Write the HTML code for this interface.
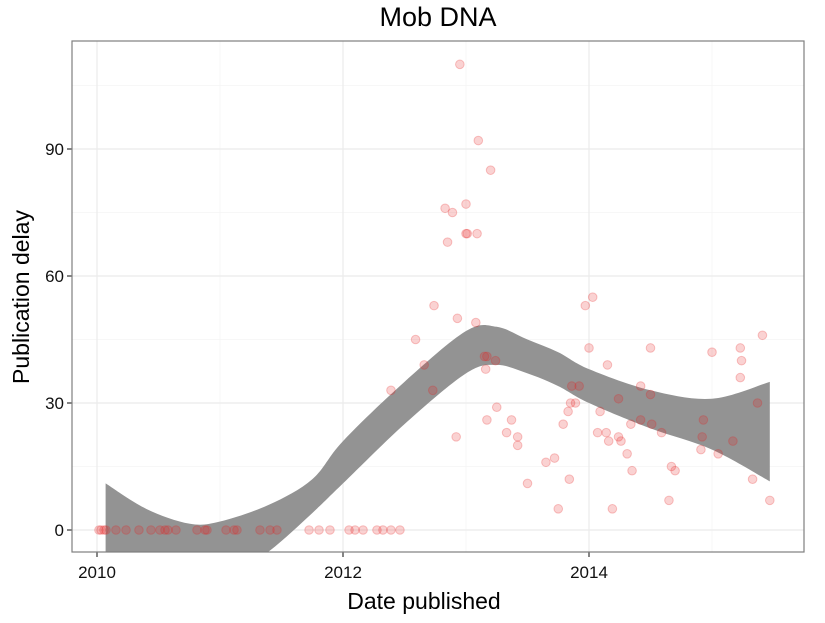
<!DOCTYPE html>
<html><head><meta charset="utf-8"><style>
body{margin:0;background:#fff;}
svg text{font-family:"Liberation Sans",sans-serif;}
</style></head><body>
<svg id="chart" width="825" height="618">
<text x="438" y="26" text-anchor="middle" font-size="27">Mob DNA</text>
<text x="424" y="609" text-anchor="middle" font-size="23">Date published</text>
<text transform="translate(29,297) rotate(-90)" text-anchor="middle" font-size="23">Publication delay</text>
<g id="grid"></g><g id="band"></g><g id="pts"></g><g id="axes"></g>
<rect x="72" y="41" width="732" height="511" fill="none" stroke="#7f7f7f" stroke-width="1.2"/>
</svg>
<script>
const zeroDates=[0.016,0.033,0.057,0.073,0.154,0.236,0.341,0.439,0.512,0.553,0.577,0.642,0.813,0.878,0.894,1.049,1.114,1.138,1.325,1.407,1.463,1.724,1.805,1.894,2.049,2.098,2.163,2.276,2.325,2.390,2.463];
const dates=[2.95,3.10,3.20,2.83,2.89,3.00,3.00,3.01,3.09,2.85,2.74,2.93,3.08,2.59,2.66,3.15,3.17,3.24,2.39,2.73,3.16,3.25,3.17,3.37,2.92,3.33,3.42,3.42,
5.37,5.17,4.93,4.92,4.91,5.05,5.33,5.47,5.23,5.24,5.23,5.41,5.00,3.86,3.92,4.00,3.97,4.03,4.15,4.42,4.50,4.50,4.24,3.85,3.89,3.83,4.09,4.42,4.51,4.59,4.34,4.07,4.14,4.24,4.26,4.16,4.31,3.72,3.79,3.65,3.50,3.75,4.19,4.35,4.65,4.67,4.70,3.84];
const delays=[110,92,85,76,75,77,70,70,70,68,53,50,49,45,39,41,41,40,33,33,38,29,26,26,22,23,22,20,
30,21,26,22,19,18,12,7,43,40,36,46,42,34,34,43,53,55,39,34,32,43,31,30,30,28,28,26,25,23,25,23,23,22,21,21,18,17,25,16,11,5,5,14,7,15,14,12,27];
const bandYears=[2010.07,2010.4,2010.75,2011.0,2011.4,2011.75,2012.0,2012.5,2013.0,2013.25,2013.5,2013.75,2014.0,2014.5,2015.0,2015.47];
const bandUpper=[11,5,1.5,2,6,12,21,35,47,48,45,42,38,33,31,35];
const bandLower=[-14,-16,-16,-13,-5,4,11,25,37,39,37,34,30,24,19,11.5];
const yTicks=[0,30,60,90];
const xTicks=[2010,2012,2014];
const yMinor=[15,45,75,105];
const xMinor=[2011,2013,2015];
const NS="http://www.w3.org/2000/svg";
const X=v=>97+(v-2010)*123;
const Y=v=>530-v*(381/90);
function mk(tag,attrs,parent){const e=document.createElementNS(NS,tag);for(const k in attrs)e.setAttribute(k,attrs[k]);parent.appendChild(e);return e;}
function smooth(pts){ // catmull-rom to bezier
  let s='';
  for(let i=0;i<pts.length-1;i++){
    const p0=pts[Math.max(0,i-1)],p1=pts[i],p2=pts[i+1],p3=pts[Math.min(pts.length-1,i+2)];
    const c1=[p1[0]+(p2[0]-p0[0])/6,p1[1]+(p2[1]-p0[1])/6];
    const c2=[p2[0]-(p3[0]-p1[0])/6,p2[1]-(p3[1]-p1[1])/6];
    s+='C'+c1.join(',')+' '+c2.join(',')+' '+p2.join(',');
  }
  return s;
}
const grid=document.getElementById('grid');
yMinor.forEach(v=>{const l=mk('line',{x1:72,x2:804,y1:Y(v),y2:Y(v),stroke:'#f5f5f5','stroke-width':0.8},grid);

});
xMinor.forEach(v=>{const l=mk('line',{x1:X(v),x2:X(v),y1:41,y2:552,stroke:'#f5f5f5','stroke-width':0.8},grid);

});
yTicks.forEach(v=>{const l=mk('line',{x1:72,x2:804,y1:Y(v),y2:Y(v),stroke:'#ebebeb','stroke-width':1.2},grid);

});
xTicks.forEach(v=>{const l=mk('line',{x1:X(v),x2:X(v),y1:41,y2:552,stroke:'#ebebeb','stroke-width':1.2},grid);

});
const clip=mk('clipPath',{id:'pc'},document.getElementById('chart'));
mk('rect',{x:72,y:41,width:732,height:511},clip);
const band=document.getElementById('band');
band.setAttribute('clip-path','url(#pc)');
const up=bandYears.map((y,i)=>[X(y),Y(bandUpper[i])]);
const lo=bandYears.map((y,i)=>[X(y),Y(bandLower[i])]).reverse();
const d='M'+up[0].join(',')+smooth(up)+'L'+lo[0].join(',')+smooth(lo)+'Z';
const bp=mk('path',{d:d,fill:'#939393'},band);


const pts=document.getElementById('pts');
zeroDates.forEach(t=>{const c=mk('circle',{cx:X(2010+t),cy:Y(0),r:4.3,fill:'rgba(230,30,30,0.2)',stroke:'rgba(230,30,30,0.25)','stroke-width':1},pts);

});
dates.forEach((t,i)=>{const c=mk('circle',{cx:X(2010+t),cy:Y(delays[i]),r:4.3,fill:'rgba(230,30,30,0.2)',stroke:'rgba(230,30,30,0.25)','stroke-width':1},pts);

});
const axes=document.getElementById('axes');
yTicks.forEach(v=>{const l=mk('line',{x1:67,x2:72,y1:Y(v),y2:Y(v),stroke:'#333','stroke-width':1.2},axes);


const t=mk('text',{x:64,y:Y(v)+6,'text-anchor':'end','font-size':17,fill:'#111'},axes);t.textContent=v;

});
xTicks.forEach(v=>{const l=mk('line',{x1:X(v),x2:X(v),y1:552,y2:557,stroke:'#333','stroke-width':1.2},axes);


const t=mk('text',{x:X(v),y:578,'text-anchor':'middle','font-size':17,fill:'#111'},axes);t.textContent=v;

});
</script>
</body></html>
